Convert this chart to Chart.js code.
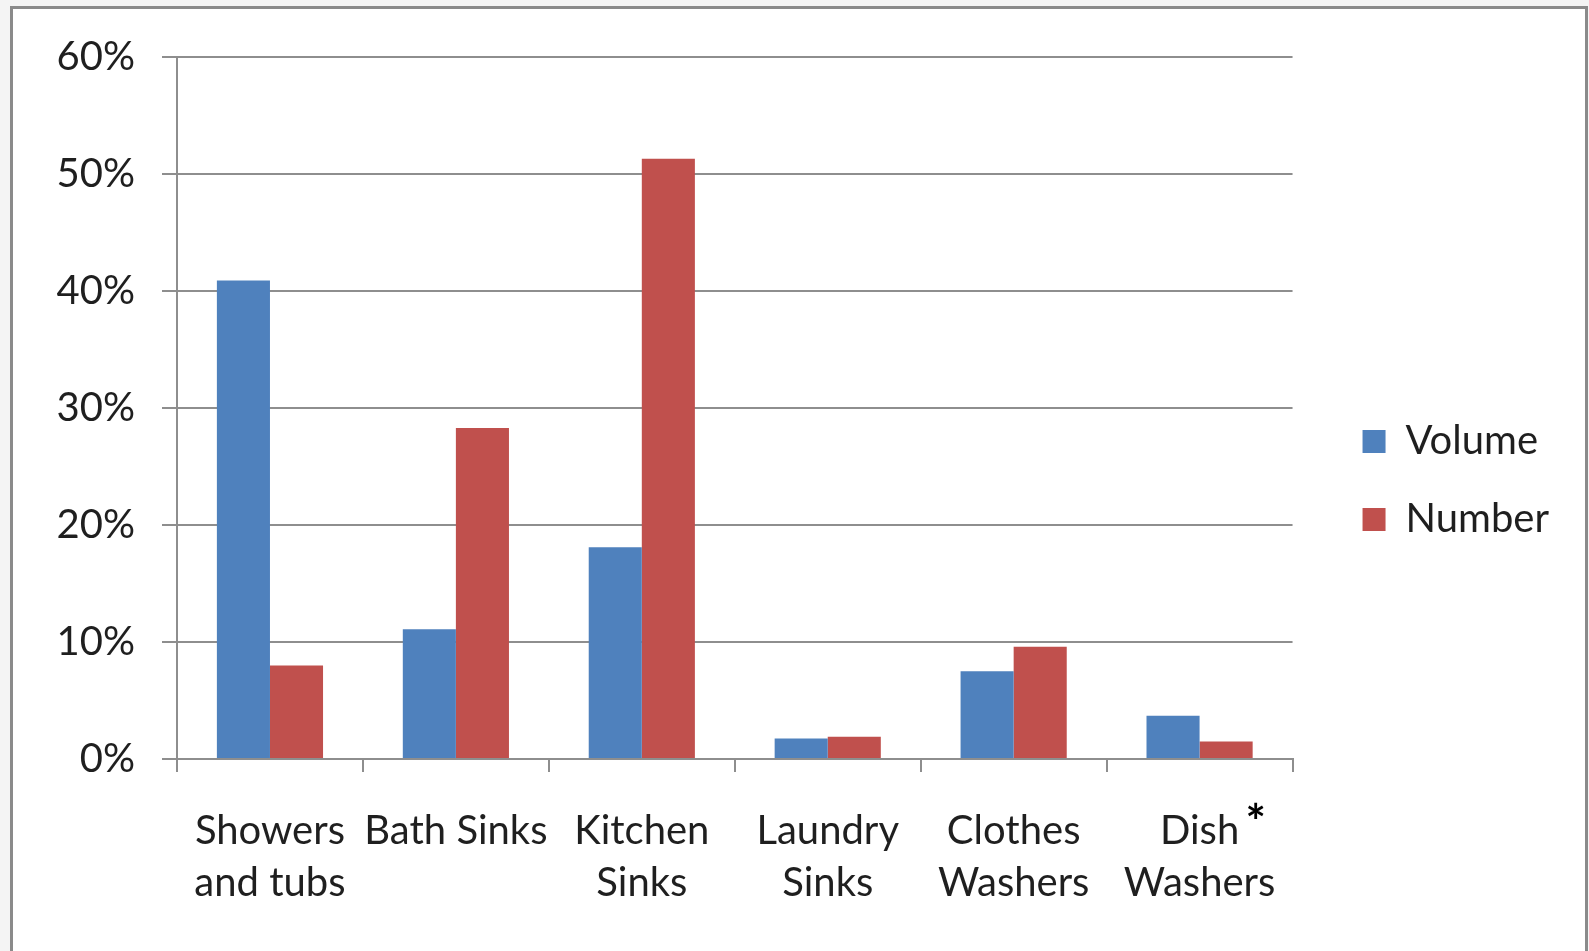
<!DOCTYPE html>
<html>
<head>
<meta charset="utf-8">
<script src="https://cdn.jsdelivr.net/npm/chart.js@4.4.1/dist/chart.umd.min.js"></script>
<style>
    html, body { margin: 0; padding: 0; overflow: hidden; background: #f4f4f4; }
    #frame {
        position: absolute;
        left: 10px;
        top: 6px;
        width: 1572px;
        height: 945px;
        border: 3px solid #8a8a8a;
        background: #ffffff;
    }
    canvas { display: block; }
</style>
</head>
<body>
<div id="frame">
    <canvas id="usageChart" width="1572" height="945"></canvas>
</div>
<script>
// categories (two-line labels as in the original)
const categories = [
    ["Showers", "and tubs"],
    ["Bath Sinks"],
    ["Kitchen", "Sinks"],
    ["Laundry", "Sinks"],
    ["Clothes", "Washers"],
    ["Dish", "Washers"]
];
const seriesNames = ["Volume", "Number"];
const volumeValues = [40.9, 11.1, 18.1, 1.75, 7.5, 3.7];   // %
const numberValues = [8.0, 28.3, 51.3, 1.9, 9.6, 1.5];     // %
const yTickLabels = ["0%", "10%", "20%", "30%", "40%", "50%", "60%"];
const footnoteMark = "*"; // next to "Dish"

const colors = ["#4F81BD", "#C0504D"];
const gridColor = "#8e8e8e";
const textColor = "#1f1f1f";

Chart.defaults.font.family = "Lato, 'Open Sans', sans-serif";
Chart.defaults.font.size = 40;
Chart.defaults.color = textColor;

// asterisk drawn beside the last category label
const footnotePlugin = {
    id: "footnote",
    afterDraw(chart) {
        const x = chart.scales.x;
        const ctx = chart.ctx;
        ctx.save();
        ctx.font = "bold 48px Lato, sans-serif";
        ctx.fillStyle = "#000";
        ctx.textAlign = "center";
        ctx.textBaseline = "alphabetic";
        ctx.fillText(footnoteMark, x.getPixelForValue(5) + 56, x.top + 80);
        ctx.restore();
    }
};

const ctx = document.getElementById("usageChart").getContext("2d");

new Chart(ctx, {
    type: "bar",
    data: {
        labels: categories,
        datasets: [{
            label: seriesNames[0],
            data: volumeValues,
            backgroundColor: colors[0],
            borderWidth: 0
        }, {
            label: seriesNames[1],
            data: numberValues,
            backgroundColor: colors[1],
            borderWidth: 0
        }]
    },
    options: {
        responsive: false,
        animation: false,
        devicePixelRatio: 1,
        categoryPercentage: 0.571,
        barPercentage: 1.0,
        layout: {
            padding: { top: 48, left: 0, right: 26, bottom: 50 }
        },
        scales: {
            x: {
                grid: {
                    display: true,
                    drawOnChartArea: false,
                    drawTicks: true,
                    tickLength: 13,
                    color: gridColor,
                    lineWidth: 2
                },
                border: { display: true, color: gridColor, width: 2 },
                ticks: {
                    maxRotation: 0,
                    minRotation: 0,
                    autoSkip: false,
                    padding: 33,
                    font: { size: 40, lineHeight: 1.3 }
                },
                afterFit(scale) {
                    scale.height = 145;
                }
            },
            y: {
                min: 0,
                max: 60,
                ticks: {
                    stepSize: 10,
                    padding: 27,
                    font: { size: 40 },
                    callback: function (value, index) {
                        return yTickLabels[index];
                    }
                },
                grid: {
                    color: gridColor,
                    lineWidth: 2,
                    tickLength: 15,
                    drawTicks: true
                },
                border: { display: true, color: gridColor, width: 2 },
                afterFit(scale) {
                    scale.width = 164;
                    // label padding shouldn't push the plot down
                    scale.paddingTop = 24;
                    scale.paddingBottom = 24;
                }
            },
            // empty spacer between plot and legend
            gap: {
                type: "linear",
                position: "right",
                display: true,
                grid: { display: false },
                border: { display: false },
                ticks: { display: false },
                afterFit(scale) {
                    scale.width = 32;
                    scale.paddingTop = 0;
                    scale.paddingBottom = 0;
                }
            }
        },
        plugins: {
            legend: {
                position: "right",
                align: "center",
                labels: {
                    boxWidth: 23,
                    boxHeight: 23,
                    padding: 38,
                    color: textColor,
                    font: { size: 40 }
                }
            },
            tooltip: { enabled: false }
        }
    },
    plugins: [footnotePlugin]
});
</script>
</body>
</html>
